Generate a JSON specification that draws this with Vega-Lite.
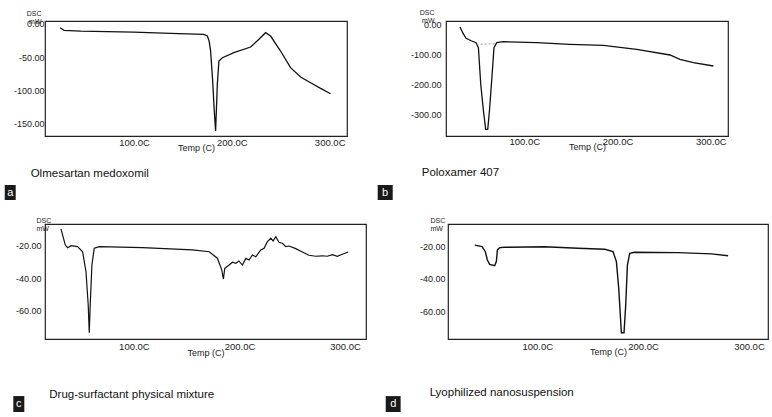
{
  "$schema": "https://vega.github.io/schema/vega-lite/v6.json",
  "background": "white",
  "padding": {"left": 4, "top": 7, "right": 0, "bottom": 0},
  "config": {
    "view": {"stroke": "#222", "strokeWidth": 1.2},
    "font": "Liberation Sans",
    "axis": {"domain": false, "ticks": false, "grid": false, "labelFont": "Liberation Sans", "labelColor": "#222", "titleFont": "Liberation Sans", "titleFontWeight": "normal", "titleColor": "#222", "labelFlush": false, "labelOverlap": false}
  },
  "datasets": {
    "a": [
      {"T": 24.4, "v": -6}, {"T": 28.5, "v": -9.9}, {"T": 45.6, "v": -11}, {"T": 99.7, "v": -12.5}, {"T": 137.5, "v": -14.4},
      {"T": 171.2, "v": -15.9}, {"T": 175, "v": -18.5}, {"T": 176.8, "v": -26}, {"T": 178.3, "v": -41}, {"T": 180.4, "v": -86},
      {"T": 182, "v": -130}, {"T": 183.4, "v": -161}, {"T": 185.2, "v": -90}, {"T": 186.8, "v": -56}, {"T": 190.3, "v": -51},
      {"T": 202.1, "v": -43.5}, {"T": 219.2, "v": -35}, {"T": 227.7, "v": -23.4}, {"T": 234.5, "v": -13.5}, {"T": 239.6, "v": -18.5},
      {"T": 249.8, "v": -41}, {"T": 260, "v": -66}, {"T": 270.3, "v": -80}, {"T": 280.5, "v": -88.5}, {"T": 290.7, "v": -97}, {"T": 300.9, "v": -105}
    ],
    "b": [
      {"T": 31.2, "v": -6.7}, {"T": 34, "v": -25.7}, {"T": 37.6, "v": -44.7}, {"T": 43.7, "v": -53.7}, {"T": 48.3, "v": -59.3},
      {"T": 50.9, "v": -76}, {"T": 53.4, "v": -199}, {"T": 56.3, "v": -288.6}, {"T": 58.7, "v": -350}, {"T": 60.9, "v": -350},
      {"T": 62.7, "v": -288.6}, {"T": 65.1, "v": -188}, {"T": 67.6, "v": -76}, {"T": 70.5, "v": -59.3}, {"T": 77.7, "v": -56},
      {"T": 113.4, "v": -59.3}, {"T": 149, "v": -64.8}, {"T": 184.9, "v": -68.1}, {"T": 220.6, "v": -81.5}, {"T": 256.4, "v": -100.7},
      {"T": 267, "v": -115}, {"T": 281.4, "v": -126.5}, {"T": 302.9, "v": -137.6}
    ],
    "bBase": [{"T": 49, "v": -65}, {"T": 70.5, "v": -62.7}],
    "c": [
      {"T": 30.9, "v": -9.7}, {"T": 32.4, "v": -13.4}, {"T": 35, "v": -19.6}, {"T": 37.2, "v": -21.2}, {"T": 40.4, "v": -20},
      {"T": 46.6, "v": -20.6}, {"T": 51.4, "v": -23.7}, {"T": 54.6, "v": -36}, {"T": 56.7, "v": -56.5}, {"T": 57.7, "v": -73.5},
      {"T": 58.6, "v": -56.5}, {"T": 60.2, "v": -31.9}, {"T": 62.4, "v": -21.6}, {"T": 67.2, "v": -20.6}, {"T": 108.1, "v": -21.2},
      {"T": 155.5, "v": -22.6}, {"T": 171.3, "v": -23.7}, {"T": 179.1, "v": -27.7}, {"T": 183.3, "v": -35}, {"T": 184.8, "v": -40.5},
      {"T": 186.1, "v": -33.9}, {"T": 190.2, "v": -31.9}, {"T": 193.5, "v": -30.2}, {"T": 196.5, "v": -30.8}, {"T": 199.5, "v": -29.4},
      {"T": 202.8, "v": -31.9}, {"T": 206, "v": -27.8}, {"T": 209.1, "v": -28.8}, {"T": 212.3, "v": -25.7}, {"T": 215.5, "v": -26.8},
      {"T": 220.2, "v": -22.6}, {"T": 223.3, "v": -21.6}, {"T": 226.5, "v": -17.5}, {"T": 229.7, "v": -15.4}, {"T": 231.9, "v": -17.1},
      {"T": 234.4, "v": -14.5}, {"T": 237.5, "v": -17.9}, {"T": 240.6, "v": -18.5}, {"T": 243.9, "v": -20.6}, {"T": 247, "v": -20.2},
      {"T": 253.3, "v": -21.8}, {"T": 259.6, "v": -23.9}, {"T": 265.9, "v": -25.9}, {"T": 272.3, "v": -26.5}, {"T": 278.5, "v": -26.2},
      {"T": 283.3, "v": -26.5}, {"T": 288, "v": -25.5}, {"T": 292.7, "v": -26.5}, {"T": 297.4, "v": -25.3}, {"T": 300.7, "v": -24.5}, {"T": 303.1, "v": -23.9}
    ],
    "d": [
      {"T": 41, "v": -19}, {"T": 47.9, "v": -20}, {"T": 51, "v": -23.1}, {"T": 52.9, "v": -28.3}, {"T": 55.1, "v": -31},
      {"T": 59.8, "v": -31.8}, {"T": 61.4, "v": -29.3}, {"T": 62.4, "v": -22}, {"T": 64.6, "v": -20.6}, {"T": 69.3, "v": -20.4},
      {"T": 107, "v": -20}, {"T": 138.5, "v": -21}, {"T": 163.8, "v": -21.6}, {"T": 171.6, "v": -23.1}, {"T": 174.8, "v": -29.3},
      {"T": 177, "v": -45.9}, {"T": 179.5, "v": -73.5}, {"T": 182, "v": -73.5}, {"T": 183.6, "v": -56.3}, {"T": 185.2, "v": -31.4},
      {"T": 187.4, "v": -24.1}, {"T": 192.1, "v": -23.5}, {"T": 233, "v": -23.7}, {"T": 264.6, "v": -24.5}, {"T": 280.3, "v": -25.6}
    ],
    "captions": [
      {"panel": "a", "caption": "Olmesartan medoxomil", "letter": "a"},
      {"panel": "b", "caption": "Poloxamer 407", "letter": "b"},
      {"panel": "c", "caption": "Drug-surfactant physical mixture", "letter": "c"},
      {"panel": "d", "caption": "Lyophilized nanosuspension", "letter": "d"}
    ]
  },
  "spacing": 14,
  "vconcat": [
    {
      "bounds": "flush",
      "spacing": 99,
      "hconcat": [
        {
          "width": 302, "height": 115,
          "layer": [
            {
              "data": {"name": "a"},
              "mark": {"type": "line", "color": "#111", "strokeWidth": 1.3},
              "encoding": {
                "x": {"field": "T", "type": "quantitative", "scale": {"domain": [9.04, 317.7], "nice": false, "zero": false},
                  "axis": {"values": [100, 200, 300], "labelExpr": "format(datum.value, '.1f') + 'C'", "labelFontSize": 9.5, "labelPadding": 1, "labelOverlap": false, "title": "Temp (C)", "titleFontSize": 9, "titleY": 7, "titleBaseline": "top"}},
                "y": {"field": "v", "type": "quantitative", "scale": {"domain": [-168.45, 4.05], "nice": false, "zero": false},
                  "axis": {"values": [0, -50, -100, -150], "labelExpr": "datum.value < 0 ? '-' + format(-datum.value, '.2f') : format(datum.value, '.2f')", "labelFontSize": 9, "labelPadding": 1, "labelOverlap": false, "title": ["DSC", "mW"], "titleFontSize": 7, "titleLineHeight": 8, "titleAngle": 0, "titleAlign": "right", "titleBaseline": "bottom", "titleX": -4, "titleY": -5}}
              }
            },
            {
              "data": {"name": "captions"},
              "transform": [{"filter": "datum.panel == 'a'"}],
              "mark": {"type": "text", "align": "left", "baseline": "middle", "fontSize": 11.5, "color": "#111"},
              "encoding": {
                "x": {"datum": -5.6, "type": "quantitative", "scale": {"domain": [9.04, 317.7], "nice": false, "zero": false},
                  "axis": {"values": [100, 200, 300], "labelExpr": "format(datum.value, '.1f') + 'C'", "labelFontSize": 9.5, "labelPadding": 1, "labelOverlap": false, "title": "Temp (C)", "titleFontSize": 9, "titleY": 7, "titleBaseline": "top"}},
                "y": {"datum": -225.5, "type": "quantitative", "scale": {"domain": [-168.45, 4.05], "nice": false, "zero": false},
                  "axis": {"values": [0, -50, -100, -150], "labelExpr": "datum.value < 0 ? '-' + format(-datum.value, '.2f') : format(datum.value, '.2f')", "labelFontSize": 9, "labelPadding": 1, "labelOverlap": false, "title": ["DSC", "mW"], "titleFontSize": 7, "titleLineHeight": 8, "titleAngle": 0, "titleAlign": "right", "titleBaseline": "bottom", "titleX": -4, "titleY": -5}},
                "text": {"field": "caption"}
              }
            },
            {
              "data": {"name": "captions"},
              "transform": [{"filter": "datum.panel == 'a'"}],
              "mark": {"type": "rect", "color": "#1a1a1a"},
              "encoding": {
                "x": {"datum": -32.1, "type": "quantitative", "scale": {"domain": [9.04, 317.7], "nice": false, "zero": false},
                  "axis": {"values": [100, 200, 300], "labelExpr": "format(datum.value, '.1f') + 'C'", "labelFontSize": 9.5, "labelPadding": 1, "labelOverlap": false, "title": "Temp (C)", "titleFontSize": 9, "titleY": 7, "titleBaseline": "top"}},
                "x2": {"datum": -20.9},
                "y": {"datum": -241.95, "type": "quantitative", "scale": {"domain": [-168.45, 4.05], "nice": false, "zero": false},
                  "axis": {"values": [0, -50, -100, -150], "labelExpr": "datum.value < 0 ? '-' + format(-datum.value, '.2f') : format(datum.value, '.2f')", "labelFontSize": 9, "labelPadding": 1, "labelOverlap": false, "title": ["DSC", "mW"], "titleFontSize": 7, "titleLineHeight": 8, "titleAngle": 0, "titleAlign": "right", "titleBaseline": "bottom", "titleX": -4, "titleY": -5}},
                "y2": {"datum": -264.45}
              }
            },
            {
              "data": {"name": "captions"},
              "transform": [{"filter": "datum.panel == 'a'"}],
              "mark": {"type": "text", "align": "center", "baseline": "middle", "fontSize": 11, "color": "white"},
              "encoding": {
                "x": {"datum": -26.5, "type": "quantitative", "scale": {"domain": [9.04, 317.7], "nice": false, "zero": false},
                  "axis": {"values": [100, 200, 300], "labelExpr": "format(datum.value, '.1f') + 'C'", "labelFontSize": 9.5, "labelPadding": 1, "labelOverlap": false, "title": "Temp (C)", "titleFontSize": 9, "titleY": 7, "titleBaseline": "top"}},
                "y": {"datum": -253.2, "type": "quantitative", "scale": {"domain": [-168.45, 4.05], "nice": false, "zero": false},
                  "axis": {"values": [0, -50, -100, -150], "labelExpr": "datum.value < 0 ? '-' + format(-datum.value, '.2f') : format(datum.value, '.2f')", "labelFontSize": 9, "labelPadding": 1, "labelOverlap": false, "title": ["DSC", "mW"], "titleFontSize": 7, "titleLineHeight": 8, "titleAngle": 0, "titleAlign": "right", "titleBaseline": "bottom", "titleX": -4, "titleY": -5}},
                "text": {"field": "letter"}
              }
            }
          ]
        },
        {
          "width": 282, "height": 115,
          "layer": [
            {
              "data": {"name": "b"},
              "mark": {"type": "line", "color": "#111", "strokeWidth": 1.3},
              "encoding": {
                "x": {"field": "T", "type": "quantitative", "scale": {"domain": [16.14, 318.55], "nice": false, "zero": false},
                  "axis": {"values": [100, 200, 300], "labelExpr": "format(datum.value, '.1f') + 'C'", "labelFontSize": 9.5, "labelPadding": 0, "labelOverlap": false, "title": "Temp (C)", "titleFontSize": 9, "titleY": 6.5, "titleBaseline": "top"}},
                "y": {"field": "v", "type": "quantitative", "scale": {"domain": [-372.5, 13.4], "nice": false, "zero": false},
                  "axis": {"values": [0, -100, -200, -300], "labelExpr": "datum.value < 0 ? '-' + format(-datum.value, '.2f') : format(datum.value, '.2f')", "labelFontSize": 9, "labelPadding": 5, "labelOverlap": false, "title": ["DSC", "mW"], "titleFontSize": 7, "titleLineHeight": 8, "titleAngle": 0, "titleAlign": "right", "titleBaseline": "bottom", "titleX": -12, "titleY": -6}}
              }
            },
            {
              "data": {"name": "bBase"},
              "mark": {"type": "line", "color": "#999", "strokeWidth": 1, "strokeDash": [2, 2]},
              "encoding": {
                "x": {"field": "T", "type": "quantitative", "scale": {"domain": [16.14, 318.55], "nice": false, "zero": false},
                  "axis": {"values": [100, 200, 300], "labelExpr": "format(datum.value, '.1f') + 'C'", "labelFontSize": 9.5, "labelPadding": 0, "labelOverlap": false, "title": "Temp (C)", "titleFontSize": 9, "titleY": 6.5, "titleBaseline": "top"}},
                "y": {"field": "v", "type": "quantitative", "scale": {"domain": [-372.5, 13.4], "nice": false, "zero": false},
                  "axis": {"values": [0, -100, -200, -300], "labelExpr": "datum.value < 0 ? '-' + format(-datum.value, '.2f') : format(datum.value, '.2f')", "labelFontSize": 9, "labelPadding": 5, "labelOverlap": false, "title": ["DSC", "mW"], "titleFontSize": 7, "titleLineHeight": 8, "titleAngle": 0, "titleAlign": "right", "titleBaseline": "bottom", "titleX": -12, "titleY": -6}}
              }
            },
            {
              "data": {"name": "captions"},
              "transform": [{"filter": "datum.panel == 'b'"}],
              "mark": {"type": "text", "align": "left", "baseline": "middle", "fontSize": 11.5, "color": "#111"},
              "encoding": {
                "x": {"datum": -9.9, "type": "quantitative", "scale": {"domain": [16.14, 318.55], "nice": false, "zero": false},
                  "axis": {"values": [100, 200, 300], "labelExpr": "format(datum.value, '.1f') + 'C'", "labelFontSize": 9.5, "labelPadding": 0, "labelOverlap": false, "title": "Temp (C)", "titleFontSize": 9, "titleY": 6.5, "titleBaseline": "top"}},
                "y": {"datum": -496.6, "type": "quantitative", "scale": {"domain": [-372.5, 13.4], "nice": false, "zero": false},
                  "axis": {"values": [0, -100, -200, -300], "labelExpr": "datum.value < 0 ? '-' + format(-datum.value, '.2f') : format(datum.value, '.2f')", "labelFontSize": 9, "labelPadding": 5, "labelOverlap": false, "title": ["DSC", "mW"], "titleFontSize": 7, "titleLineHeight": 8, "titleAngle": 0, "titleAlign": "right", "titleBaseline": "bottom", "titleX": -12, "titleY": -6}},
                "text": {"field": "caption"}
              }
            },
            {
              "data": {"name": "captions"},
              "transform": [{"filter": "datum.panel == 'b'"}],
              "mark": {"type": "rect", "color": "#1a1a1a"},
              "encoding": {
                "x": {"datum": -57.1, "type": "quantitative", "scale": {"domain": [16.14, 318.55], "nice": false, "zero": false},
                  "axis": {"values": [100, 200, 300], "labelExpr": "format(datum.value, '.1f') + 'C'", "labelFontSize": 9.5, "labelPadding": 0, "labelOverlap": false, "title": "Temp (C)", "titleFontSize": 9, "titleY": 6.5, "titleBaseline": "top"}},
                "x2": {"datum": -41.0},
                "y": {"datum": -536.9, "type": "quantitative", "scale": {"domain": [-372.5, 13.4], "nice": false, "zero": false},
                  "axis": {"values": [0, -100, -200, -300], "labelExpr": "datum.value < 0 ? '-' + format(-datum.value, '.2f') : format(datum.value, '.2f')", "labelFontSize": 9, "labelPadding": 5, "labelOverlap": false, "title": ["DSC", "mW"], "titleFontSize": 7, "titleLineHeight": 8, "titleAngle": 0, "titleAlign": "right", "titleBaseline": "bottom", "titleX": -12, "titleY": -6}},
                "y2": {"datum": -587.2}
              }
            },
            {
              "data": {"name": "captions"},
              "transform": [{"filter": "datum.panel == 'b'"}],
              "mark": {"type": "text", "align": "center", "baseline": "middle", "fontSize": 11, "color": "white"},
              "encoding": {
                "x": {"datum": -49.1, "type": "quantitative", "scale": {"domain": [16.14, 318.55], "nice": false, "zero": false},
                  "axis": {"values": [100, 200, 300], "labelExpr": "format(datum.value, '.1f') + 'C'", "labelFontSize": 9.5, "labelPadding": 0, "labelOverlap": false, "title": "Temp (C)", "titleFontSize": 9, "titleY": 6.5, "titleBaseline": "top"}},
                "y": {"datum": -562.1, "type": "quantitative", "scale": {"domain": [-372.5, 13.4], "nice": false, "zero": false},
                  "axis": {"values": [0, -100, -200, -300], "labelExpr": "datum.value < 0 ? '-' + format(-datum.value, '.2f') : format(datum.value, '.2f')", "labelFontSize": 9, "labelPadding": 5, "labelOverlap": false, "title": ["DSC", "mW"], "titleFontSize": 7, "titleLineHeight": 8, "titleAngle": 0, "titleAlign": "right", "titleBaseline": "bottom", "titleX": -12, "titleY": -6}},
                "text": {"field": "letter"}
              }
            }
          ]
        }
      ]
    },
    {
      "bounds": "flush",
      "spacing": 82,
      "hconcat": [
        {
          "width": 321, "height": 115,
          "layer": [
            {
              "data": {"name": "c"},
              "mark": {"type": "line", "color": "#111", "strokeWidth": 1.2},
              "encoding": {
                "x": {"field": "T", "type": "quantitative", "scale": {"domain": [15.76, 319.9], "nice": false, "zero": false},
                  "axis": {"values": [100, 200, 300], "labelExpr": "format(datum.value, '.1f') + 'C'", "labelFontSize": 9.5, "labelPadding": 2, "labelOverlap": false, "title": "Temp (C)", "titleFontSize": 9, "titleY": 9, "titleBaseline": "top"}},
                "y": {"field": "v", "type": "quantitative", "scale": {"domain": [-77.4, -6.65], "nice": false, "zero": false},
                  "axis": {"values": [-20, -40, -60], "labelExpr": "datum.value < 0 ? '-' + format(-datum.value, '.2f') : format(datum.value, '.2f')", "labelFontSize": 9, "labelPadding": 4, "labelOverlap": false, "title": ["DSC", "mW"], "titleFontSize": 7, "titleLineHeight": 8, "titleAngle": 0, "titleAlign": "left", "titleBaseline": "bottom", "titleX": -9, "titleY": -1}}
              }
            },
            {
              "data": {"name": "captions"},
              "transform": [{"filter": "datum.panel == 'c'"}],
              "mark": {"type": "text", "align": "left", "baseline": "middle", "fontSize": 11.5, "color": "#111"},
              "encoding": {
                "x": {"datum": 19.83, "type": "quantitative", "scale": {"domain": [15.76, 319.9], "nice": false, "zero": false},
                  "axis": {"values": [100, 200, 300], "labelExpr": "format(datum.value, '.1f') + 'C'", "labelFontSize": 9.5, "labelPadding": 2, "labelOverlap": false, "title": "Temp (C)", "titleFontSize": 9, "titleY": 9, "titleBaseline": "top"}},
                "y": {"datum": -111.9, "type": "quantitative", "scale": {"domain": [-77.4, -6.65], "nice": false, "zero": false},
                  "axis": {"values": [-20, -40, -60], "labelExpr": "datum.value < 0 ? '-' + format(-datum.value, '.2f') : format(datum.value, '.2f')", "labelFontSize": 9, "labelPadding": 4, "labelOverlap": false, "title": ["DSC", "mW"], "titleFontSize": 7, "titleLineHeight": 8, "titleAngle": 0, "titleAlign": "left", "titleBaseline": "bottom", "titleX": -9, "titleY": -1}},
                "text": {"field": "caption"}
              }
            },
            {
              "data": {"name": "captions"},
              "transform": [{"filter": "datum.panel == 'c'"}],
              "mark": {"type": "rect", "color": "#1a1a1a"},
              "encoding": {
                "x": {"datum": -14.25, "type": "quantitative", "scale": {"domain": [15.76, 319.9], "nice": false, "zero": false},
                  "axis": {"values": [100, 200, 300], "labelExpr": "format(datum.value, '.1f') + 'C'", "labelFontSize": 9.5, "labelPadding": 2, "labelOverlap": false, "title": "Temp (C)", "titleFontSize": 9, "titleY": 9, "titleBaseline": "top"}},
                "x2": {"datum": -3.83},
                "y": {"datum": -112.5, "type": "quantitative", "scale": {"domain": [-77.4, -6.65], "nice": false, "zero": false},
                  "axis": {"values": [-20, -40, -60], "labelExpr": "datum.value < 0 ? '-' + format(-datum.value, '.2f') : format(datum.value, '.2f')", "labelFontSize": 9, "labelPadding": 4, "labelOverlap": false, "title": ["DSC", "mW"], "titleFontSize": 7, "titleLineHeight": 8, "titleAngle": 0, "titleAlign": "left", "titleBaseline": "bottom", "titleX": -9, "titleY": -1}},
                "y2": {"datum": -122.3}
              }
            },
            {
              "data": {"name": "captions"},
              "transform": [{"filter": "datum.panel == 'c'"}],
              "mark": {"type": "text", "align": "center", "baseline": "middle", "fontSize": 11, "color": "white"},
              "encoding": {
                "x": {"datum": -9.04, "type": "quantitative", "scale": {"domain": [15.76, 319.9], "nice": false, "zero": false},
                  "axis": {"values": [100, 200, 300], "labelExpr": "format(datum.value, '.1f') + 'C'", "labelFontSize": 9.5, "labelPadding": 2, "labelOverlap": false, "title": "Temp (C)", "titleFontSize": 9, "titleY": 9, "titleBaseline": "top"}},
                "y": {"datum": -117.5, "type": "quantitative", "scale": {"domain": [-77.4, -6.65], "nice": false, "zero": false},
                  "axis": {"values": [-20, -40, -60], "labelExpr": "datum.value < 0 ? '-' + format(-datum.value, '.2f') : format(datum.value, '.2f')", "labelFontSize": 9, "labelPadding": 4, "labelOverlap": false, "title": ["DSC", "mW"], "titleFontSize": 7, "titleLineHeight": 8, "titleAngle": 0, "titleAlign": "left", "titleBaseline": "bottom", "titleX": -9, "titleY": -1}},
                "text": {"field": "letter"}
              }
            }
          ]
        },
        {
          "width": 320, "height": 115,
          "layer": [
            {
              "data": {"name": "d"},
              "mark": {"type": "line", "color": "#111", "strokeWidth": 1.4},
              "encoding": {
                "x": {"field": "T", "type": "quantitative", "scale": {"domain": [15.73, 318.0], "nice": false, "zero": false},
                  "axis": {"values": [100, 200, 300], "labelExpr": "format(datum.value, '.1f') + 'C'", "labelFontSize": 9.5, "labelPadding": 2, "labelOverlap": false, "title": "Temp (C)", "titleFontSize": 9, "titleY": 8.5, "titleBaseline": "top"}},
                "y": {"field": "v", "type": "quantitative", "scale": {"domain": [-77.4, -5.9], "nice": false, "zero": false},
                  "axis": {"values": [-20, -40, -60], "labelExpr": "datum.value < 0 ? '-' + format(-datum.value, '.2f') : format(datum.value, '.2f')", "labelFontSize": 9, "labelPadding": 3, "labelOverlap": false, "title": ["DSC", "mW"], "titleFontSize": 7, "titleLineHeight": 8, "titleAngle": 0, "titleAlign": "left", "titleBaseline": "bottom", "titleX": -18, "titleY": -1}}
              }
            },
            {
              "data": {"name": "captions"},
              "transform": [{"filter": "datum.panel == 'd'"}],
              "mark": {"type": "text", "align": "left", "baseline": "middle", "fontSize": 11.5, "color": "#111"},
              "encoding": {
                "x": {"datum": -1.6, "type": "quantitative", "scale": {"domain": [15.73, 318.0], "nice": false, "zero": false},
                  "axis": {"values": [100, 200, 300], "labelExpr": "format(datum.value, '.1f') + 'C'", "labelFontSize": 9.5, "labelPadding": 2, "labelOverlap": false, "title": "Temp (C)", "titleFontSize": 9, "titleY": 8.5, "titleBaseline": "top"}},
                "y": {"datum": -111.0, "type": "quantitative", "scale": {"domain": [-77.4, -5.9], "nice": false, "zero": false},
                  "axis": {"values": [-20, -40, -60], "labelExpr": "datum.value < 0 ? '-' + format(-datum.value, '.2f') : format(datum.value, '.2f')", "labelFontSize": 9, "labelPadding": 3, "labelOverlap": false, "title": ["DSC", "mW"], "titleFontSize": 7, "titleLineHeight": 8, "titleAngle": 0, "titleAlign": "left", "titleBaseline": "bottom", "titleX": -18, "titleY": -1}},
                "text": {"field": "caption"}
              }
            },
            {
              "data": {"name": "captions"},
              "transform": [{"filter": "datum.panel == 'd'"}],
              "mark": {"type": "rect", "color": "#1a1a1a"},
              "encoding": {
                "x": {"datum": -43.1, "type": "quantitative", "scale": {"domain": [15.73, 318.0], "nice": false, "zero": false},
                  "axis": {"values": [100, 200, 300], "labelExpr": "format(datum.value, '.1f') + 'C'", "labelFontSize": 9.5, "labelPadding": 2, "labelOverlap": false, "title": "Temp (C)", "titleFontSize": 9, "titleY": 8.5, "titleBaseline": "top"}},
                "x2": {"datum": -29.0},
                "y": {"datum": -112.9, "type": "quantitative", "scale": {"domain": [-77.4, -5.9], "nice": false, "zero": false},
                  "axis": {"values": [-20, -40, -60], "labelExpr": "datum.value < 0 ? '-' + format(-datum.value, '.2f') : format(datum.value, '.2f')", "labelFontSize": 9, "labelPadding": 3, "labelOverlap": false, "title": ["DSC", "mW"], "titleFontSize": 7, "titleLineHeight": 8, "titleAngle": 0, "titleAlign": "left", "titleBaseline": "bottom", "titleX": -18, "titleY": -1}},
                "y2": {"datum": -122.8}
              }
            },
            {
              "data": {"name": "captions"},
              "transform": [{"filter": "datum.panel == 'd'"}],
              "mark": {"type": "text", "align": "center", "baseline": "middle", "fontSize": 11, "color": "white"},
              "encoding": {
                "x": {"datum": -36.0, "type": "quantitative", "scale": {"domain": [15.73, 318.0], "nice": false, "zero": false},
                  "axis": {"values": [100, 200, 300], "labelExpr": "format(datum.value, '.1f') + 'C'", "labelFontSize": 9.5, "labelPadding": 2, "labelOverlap": false, "title": "Temp (C)", "titleFontSize": 9, "titleY": 8.5, "titleBaseline": "top"}},
                "y": {"datum": -117.9, "type": "quantitative", "scale": {"domain": [-77.4, -5.9], "nice": false, "zero": false},
                  "axis": {"values": [-20, -40, -60], "labelExpr": "datum.value < 0 ? '-' + format(-datum.value, '.2f') : format(datum.value, '.2f')", "labelFontSize": 9, "labelPadding": 3, "labelOverlap": false, "title": ["DSC", "mW"], "titleFontSize": 7, "titleLineHeight": 8, "titleAngle": 0, "titleAlign": "left", "titleBaseline": "bottom", "titleX": -18, "titleY": -1}},
                "text": {"field": "letter"}
              }
            }
          ]
        }
      ]
    }
  ]
}
